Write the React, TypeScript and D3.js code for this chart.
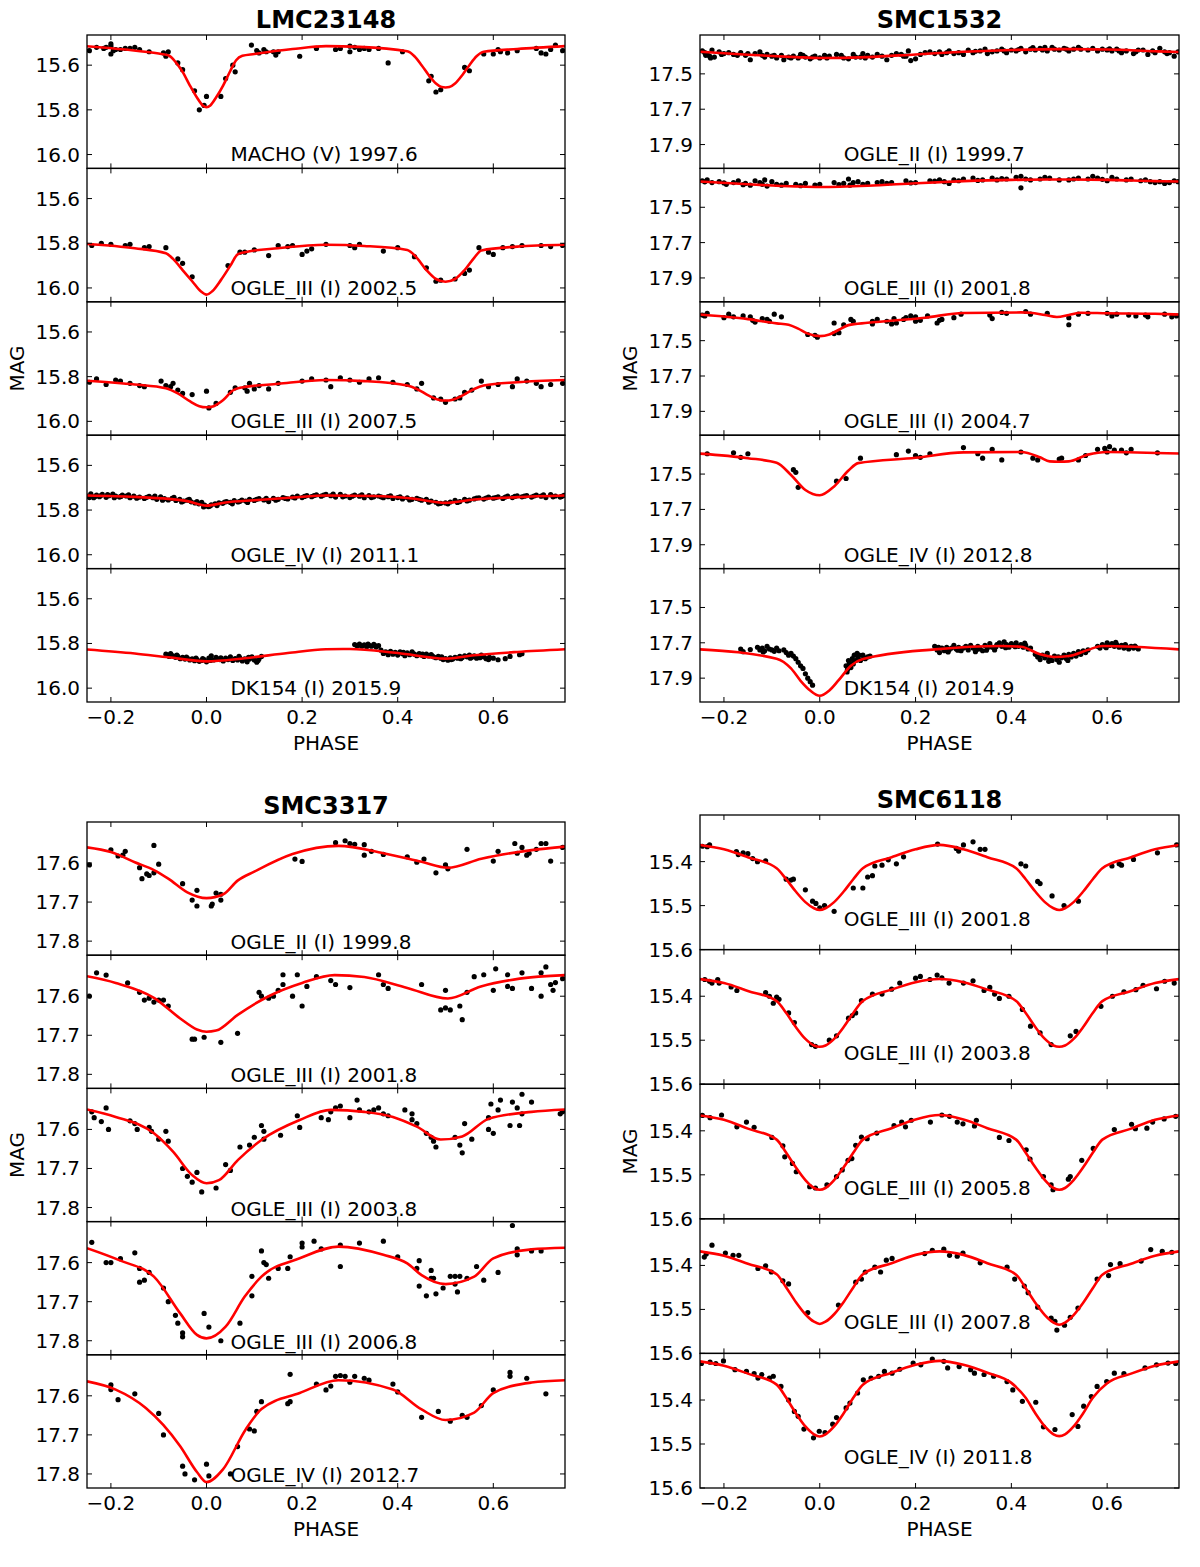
import * as d3 from 'd3'

type Pt = [number, number]

// ---- shared axis values ----
const PHASE_TICKS = [-0.2, 0, 0.2, 0.4, 0.6]
const LMC23148_TICKS = [15.6, 15.8, 16.0]
const SMC1532_TICKS = [17.5, 17.7, 17.9]
const SMC3317_TICKS = [17.6, 17.7, 17.8]
const SMC6118_TICKS = [15.4, 15.5, 15.6]

const LMC23148_LABELS = ['MACHO (V) 1997.6', 'OGLE_III (I) 2002.5', 'OGLE_III (I) 2007.5', 'OGLE_IV (I) 2011.1', 'DK154 (I) 2015.9']
const SMC1532_LABELS = ['OGLE_II (I) 1999.7', 'OGLE_III (I) 2001.8', 'OGLE_III (I) 2004.7', 'OGLE_IV (I) 2012.8', 'DK154 (I) 2014.9']
const SMC3317_LABELS = ['OGLE_II (I) 1999.8', 'OGLE_III (I) 2001.8', 'OGLE_III (I) 2003.8', 'OGLE_III (I) 2006.8', 'OGLE_IV (I) 2012.7']
const SMC6118_LABELS = ['OGLE_III (I) 2001.8', 'OGLE_III (I) 2003.8', 'OGLE_III (I) 2005.8', 'OGLE_III (I) 2007.8', 'OGLE_IV (I) 2011.8']

// ---- LMC23148 ----
const LMC_MACHO_CURVE: Pt[] = [[-0.25,15.515],[-0.17,15.53],[-0.1,15.548],[-0.08,15.556],[-0.065,15.585],[-0.05,15.63],[-0.035,15.69],[-0.02,15.745],[-0.008,15.78],[0,15.788],[0.008,15.78],[0.02,15.745],[0.035,15.69],[0.05,15.625],[0.062,15.578],[0.075,15.558],[0.1,15.55],[0.18,15.528],[0.25,15.515],[0.32,15.518],[0.42,15.538],[0.435,15.56],[0.45,15.6],[0.465,15.645],[0.48,15.682],[0.492,15.698],[0.5,15.7],[0.508,15.698],[0.52,15.682],[0.535,15.645],[0.55,15.6],[0.565,15.56],[0.58,15.54],[0.65,15.528],[0.75,15.515]]
const LMC_MACHO_POINTS: Pt[] = [[-0.245,15.535],[-0.23,15.52],[-0.21,15.52],[-0.2,15.515],[-0.2,15.505],[-0.2,15.55],[-0.19,15.53],[-0.18,15.53],[-0.17,15.525],[-0.16,15.525],[-0.15,15.52],[-0.12,15.54],[-0.09,15.545],[-0.085,15.56],[-0.08,15.54],[-0.06,15.59],[-0.05,15.62],[-0.025,15.715],[-0.015,15.8],[-0.005,15.78],[0.0,15.74],[0.03,15.74],[0.04,15.66],[0.055,15.6],[0.06,15.63],[0.094,15.51],[0.105,15.535],[0.12,15.53],[0.14,15.54],[0.145,15.555],[0.15,15.54],[0.195,15.56],[0.23,15.525],[0.27,15.53],[0.28,15.525],[0.3,15.515],[0.3,15.54],[0.32,15.53],[0.34,15.53],[0.36,15.525],[0.38,15.59],[0.41,15.54],[0.465,15.67],[0.47,15.65],[0.48,15.72],[0.49,15.71],[0.54,15.61],[0.55,15.625],[0.58,15.55],[0.6,15.55],[0.61,15.53],[0.63,15.545],[0.65,15.535],[0.69,15.525],[0.7,15.545],[0.71,15.55],[0.73,15.51],[0.745,15.535],[-0.215,15.525],[-0.195,15.535],[-0.14,15.53],[0.11,15.545],[0.125,15.54],[0.31,15.52],[0.33,15.525],[0.615,15.54],[0.72,15.53]]

const LMC_OGLE3A_CURVE: Pt[] = [[-0.25,15.803],[-0.15,15.822],[-0.085,15.845],[-0.07,15.87],[-0.05,15.92],[-0.03,15.97],[-0.012,16.015],[0,16.03],[0.012,16.015],[0.03,15.965],[0.05,15.9],[0.065,15.85],[0.08,15.84],[0.15,15.822],[0.25,15.807],[0.33,15.812],[0.42,15.83],[0.44,15.865],[0.46,15.92],[0.48,15.96],[0.5,15.972],[0.52,15.96],[0.54,15.92],[0.56,15.865],[0.575,15.832],[0.65,15.815],[0.75,15.807]]
const LMC_OGLE3A_POINTS: Pt[] = [[-0.24,15.81],[-0.22,15.8],[-0.2,15.805],[-0.17,15.81],[-0.16,15.805],[-0.13,15.82],[-0.12,15.815],[-0.085,15.82],[-0.06,15.87],[-0.05,15.89],[-0.03,15.95],[0.045,15.9],[0.07,15.84],[0.08,15.84],[0.1,15.83],[0.13,15.855],[0.15,15.81],[0.17,15.815],[0.18,15.81],[0.2,15.85],[0.21,15.835],[0.22,15.825],[0.25,15.805],[0.3,15.81],[0.31,15.82],[0.32,15.805],[0.37,15.835],[0.4,15.82],[0.435,15.86],[0.46,15.91],[0.48,15.97],[0.49,15.965],[0.52,15.96],[0.54,15.935],[0.55,15.92],[0.57,15.82],[0.59,15.84],[0.6,15.85],[0.62,15.82],[0.64,15.815],[0.66,15.81],[0.7,15.81],[0.72,15.815],[0.745,15.81]]

const LMC_OGLE3B_CURVE: Pt[] = [[-0.25,15.818],[-0.15,15.835],[-0.085,15.852],[-0.06,15.875],[-0.035,15.91],[-0.015,15.932],[0,15.937],[0.015,15.932],[0.035,15.905],[0.055,15.862],[0.07,15.85],[0.15,15.832],[0.25,15.815],[0.33,15.82],[0.42,15.84],[0.44,15.855],[0.465,15.885],[0.485,15.903],[0.5,15.907],[0.515,15.903],[0.535,15.885],[0.56,15.855],[0.58,15.84],[0.65,15.825],[0.75,15.815]]
const LMC_OGLE3B_POINTS: Pt[] = [[-0.245,15.825],[-0.23,15.81],[-0.21,15.835],[-0.19,15.815],[-0.18,15.82],[-0.16,15.83],[-0.14,15.84],[-0.13,15.845],[-0.095,15.82],[-0.085,15.84],[-0.075,15.845],[-0.07,15.83],[-0.06,15.86],[-0.05,15.875],[-0.03,15.88],[0.0,15.865],[0.005,15.94],[0.02,15.92],[0.05,15.87],[0.06,15.85],[0.08,15.85],[0.085,15.865],[0.09,15.83],[0.1,15.855],[0.11,15.84],[0.13,15.855],[0.15,15.83],[0.2,15.82],[0.22,15.81],[0.25,15.815],[0.26,15.845],[0.28,15.805],[0.3,15.815],[0.32,15.825],[0.34,15.81],[0.36,15.805],[0.39,15.825],[0.42,15.835],[0.44,15.855],[0.45,15.83],[0.475,15.895],[0.49,15.9],[0.5,15.915],[0.52,15.9],[0.53,15.895],[0.54,15.87],[0.555,15.86],[0.575,15.82],[0.59,15.845],[0.61,15.835],[0.64,15.845],[0.65,15.81],[0.67,15.82],[0.69,15.83],[0.7,15.845],[0.72,15.835],[0.745,15.83]]

const LMC_OGLE4_CURVE: Pt[] = [[-0.25,15.735],[-0.15,15.741],[-0.08,15.75],[-0.04,15.76],[0,15.78],[0.04,15.766],[0.1,15.756],[0.18,15.744],[0.25,15.735],[0.35,15.737],[0.43,15.748],[0.5,15.768],[0.56,15.753],[0.65,15.742],[0.75,15.735]]
const LMC_OGLE4_POINTS: Pt[] = [[-0.248,15.738],[-0.242,15.728],[-0.236,15.745],[-0.23,15.733],[-0.224,15.74],[-0.218,15.73],[-0.21,15.743],[-0.204,15.736],[-0.196,15.729],[-0.19,15.738],[-0.182,15.742],[-0.176,15.733],[-0.168,15.737],[-0.16,15.745],[-0.152,15.738],[-0.14,15.742],[-0.13,15.748],[-0.12,15.739],[-0.112,15.745],[-0.104,15.752],[-0.096,15.741],[-0.088,15.749],[-0.08,15.755],[-0.072,15.748],[-0.064,15.757],[-0.056,15.752],[-0.048,15.76],[-0.04,15.756],[-0.032,15.763],[-0.024,15.768],[-0.016,15.772],[-0.01,15.765],[-0.004,15.778],[0.004,15.785],[0.01,15.777],[0.018,15.772],[0.026,15.768],[0.034,15.77],[0.042,15.762],[0.05,15.766],[0.058,15.758],[0.066,15.764],[0.074,15.755],[0.082,15.76],[0.09,15.752],[0.1,15.757],[0.11,15.749],[0.12,15.755],[0.13,15.762],[0.14,15.748],[0.15,15.752],[0.16,15.744],[0.17,15.75],[0.18,15.742],[0.19,15.737],[0.2,15.744],[0.21,15.735],[0.22,15.74],[0.23,15.732],[0.24,15.738],[0.25,15.73],[0.26,15.736],[0.27,15.742],[0.28,15.73],[0.29,15.737],[0.3,15.744],[0.31,15.733],[0.32,15.738],[0.33,15.745],[0.34,15.735],[0.35,15.741],[0.36,15.737],[0.37,15.745],[0.38,15.74],[0.39,15.748],[0.4,15.744],[0.41,15.75],[0.42,15.745],[0.43,15.752],[0.44,15.748],[0.45,15.756],[0.46,15.752],[0.47,15.76],[0.48,15.765],[0.49,15.77],[0.5,15.768],[0.51,15.764],[0.52,15.757],[0.53,15.762],[0.54,15.752],[0.55,15.756],[0.56,15.75],[0.57,15.745],[0.58,15.751],[0.59,15.742],[0.6,15.747],[0.61,15.741],[0.62,15.748],[0.63,15.738],[0.64,15.744],[0.65,15.736],[0.66,15.741],[0.67,15.735],[0.68,15.742],[0.69,15.733],[0.7,15.738],[0.71,15.744],[0.72,15.731],[0.73,15.737],[0.74,15.742],[0.748,15.734],
  [-0.245,15.744],[-0.233,15.739],[-0.221,15.735],[-0.207,15.731],[-0.193,15.745],[-0.179,15.739],[-0.163,15.732],[-0.146,15.747],[-0.125,15.743],[-0.108,15.738],[-0.092,15.756],[-0.068,15.743],[-0.052,15.764],[-0.036,15.752],[-0.02,15.762],[-0.006,15.786],[0.007,15.782],[0.022,15.78],[0.038,15.764],[0.054,15.772],[0.07,15.761],[0.086,15.766],[0.105,15.752],[0.125,15.748],[0.145,15.756],[0.165,15.748],[0.185,15.746],[0.205,15.739],[0.225,15.735],[0.245,15.733],[0.265,15.729],[0.285,15.741],[0.305,15.738],[0.325,15.732],[0.345,15.744],[0.365,15.741],[0.385,15.736],[0.405,15.741],[0.425,15.755],[0.445,15.752],[0.465,15.765],[0.485,15.772],[0.505,15.772],[0.525,15.766],[0.545,15.759],[0.565,15.746],[0.585,15.746],[0.605,15.744],[0.625,15.742],[0.645,15.739],[0.665,15.738],[0.685,15.737],[0.705,15.732],[0.725,15.741],[0.743,15.739]]

const LMC_DK154_CURVE: Pt[] = [[-0.25,15.827],[-0.15,15.845],[-0.08,15.862],[0,15.88],[0.08,15.866],[0.17,15.843],[0.25,15.826],[0.3,15.825],[0.4,15.843],[0.5,15.868],[0.56,15.853],[0.65,15.838],[0.75,15.826]]
const LMC_DK154_POINTS: Pt[] = [[-0.085,15.848],[-0.08,15.852],[-0.075,15.845],[-0.07,15.855],[-0.065,15.862],[-0.06,15.858],[-0.055,15.868],[-0.05,15.862],[-0.045,15.87],[-0.04,15.866],[-0.035,15.874],[-0.03,15.869],[-0.025,15.877],[-0.02,15.872],[-0.015,15.88],[-0.01,15.876],[-0.005,15.872],[0.0,15.882],[0.005,15.866],[0.01,15.855],[0.015,15.874],[0.02,15.862],[0.025,15.87],[0.03,15.864],[0.035,15.878],[0.04,15.866],[0.045,15.872],[0.05,15.86],[0.055,15.876],[0.06,15.868],[0.065,15.874],[0.07,15.865],[0.075,15.878],[0.08,15.869],[0.085,15.882],[0.09,15.87],[0.095,15.86],[0.1,15.874],[0.105,15.884],[0.11,15.868],[0.115,15.858],[0.31,15.805],[0.315,15.81],[0.32,15.803],[0.325,15.812],[0.33,15.806],[0.335,15.815],[0.34,15.808],[0.345,15.812],[0.35,15.804],[0.355,15.816],[0.36,15.81],[0.365,15.83],[0.37,15.845],[0.375,15.838],[0.38,15.85],[0.385,15.835],[0.39,15.848],[0.395,15.84],[0.4,15.852],[0.405,15.838],[0.41,15.846],[0.415,15.855],[0.42,15.842],[0.425,15.85],[0.43,15.838],[0.435,15.848],[0.44,15.855],[0.445,15.845],[0.45,15.852],[0.455,15.858],[0.46,15.848],[0.465,15.856],[0.47,15.85],[0.475,15.86],[0.48,15.864],[0.485,15.858],[0.49,15.866],[0.495,15.872],[0.5,15.868],[0.505,15.875],[0.51,15.864],[0.515,15.87],[0.52,15.862],[0.525,15.866],[0.53,15.858],[0.535,15.863],[0.54,15.855],[0.545,15.86],[0.55,15.852],[0.555,15.862],[0.56,15.855],[0.565,15.866],[0.57,15.858],[0.575,15.852],[0.58,15.86],[0.585,15.868],[0.59,15.872],[0.6,15.866],[0.61,15.873],[0.625,15.868],[0.635,15.858],[0.655,15.85],[0.66,15.846],
  [-0.078,15.858],[-0.062,15.852],[-0.042,15.861],[-0.022,15.866],[-0.008,15.868],[0.008,15.876],[0.028,15.872],[0.048,15.868],[0.068,15.858],[0.088,15.862],[0.108,15.876],[0.318,15.808],[0.338,15.803],[0.352,15.809],[0.372,15.84],[0.392,15.843],[0.412,15.84],[0.432,15.845],[0.452,15.848],[0.472,15.855],[0.492,15.86],[0.512,15.872],[0.532,15.868],[0.552,15.866],[0.572,15.864],[0.592,15.862]]

// ---- SMC1532 ----
const S1532_OGLE2_CURVE: Pt[] = [[-0.25,17.375],[-0.15,17.392],[-0.05,17.405],[0,17.41],[0.1,17.405],[0.2,17.39],[0.3,17.375],[0.4,17.365],[0.5,17.36],[0.6,17.362],[0.7,17.372],[0.75,17.376]]
const S1532_OGLE2_POINTS: Pt[] = [[-0.245,17.37],[-0.24,17.38],[-0.235,17.39],[-0.23,17.4],[-0.225,17.365],[-0.22,17.405],[-0.21,17.375],[-0.2,17.385],[-0.19,17.38],[-0.18,17.39],[-0.165,17.38],[-0.155,17.395],[-0.145,17.42],[-0.135,17.385],[-0.125,17.375],[-0.12,17.395],[-0.11,17.39],[-0.1,17.4],[-0.09,17.41],[-0.08,17.395],[-0.075,17.42],[-0.065,17.405],[-0.055,17.4],[-0.045,17.41],[-0.04,17.39],[-0.03,17.405],[-0.02,17.415],[-0.01,17.4],[0.0,17.41],[0.01,17.395],[0.02,17.4],[0.035,17.39],[0.05,17.41],[0.06,17.415],[0.07,17.39],[0.085,17.405],[0.09,17.385],[0.1,17.395],[0.11,17.405],[0.13,17.4],[0.14,17.42],[0.16,17.385],[0.17,17.39],[0.18,17.4],[0.185,17.37],[0.19,17.425],[0.2,17.415],[0.22,17.38],[0.23,17.375],[0.24,17.385],[0.255,17.39],[0.265,17.38],[0.27,17.37],[0.29,17.38],[0.3,17.39],[0.31,17.365],[0.32,17.38],[0.335,17.37],[0.35,17.385],[0.36,17.375],[0.37,17.37],[0.38,17.36],[0.39,17.38],[0.4,17.365],[0.41,17.37],[0.42,17.355],[0.43,17.375],[0.44,17.36],[0.45,17.365],[0.46,17.355],[0.47,17.35],[0.475,17.37],[0.49,17.36],[0.5,17.365],[0.51,17.355],[0.52,17.37],[0.53,17.36],[0.54,17.35],[0.56,17.365],[0.58,17.37],[0.59,17.36],[0.6,17.365],[0.61,17.37],[0.62,17.36],[0.63,17.38],[0.64,17.37],[0.655,17.385],[0.66,17.375],[0.675,17.365],[0.685,17.39],[0.7,17.38],[0.71,17.355],[0.72,17.375],[0.73,17.38],[0.74,17.4],[0.748,17.375],
  [-0.238,17.395],[-0.228,17.41],[-0.205,17.39],[-0.172,17.395],[-0.15,17.385],[-0.115,17.405],[-0.095,17.395],[-0.06,17.41],[-0.035,17.395],[-0.015,17.405],[0.015,17.41],[0.045,17.395],[0.075,17.405],[0.095,17.41],[0.12,17.39],[0.15,17.395],[0.175,17.4],[0.21,17.39],[0.25,17.375],[0.28,17.385],[0.325,17.372],[0.345,17.36],[0.385,17.37],[0.415,17.362],[0.445,17.352],[0.465,17.365],[0.485,17.35],[0.515,17.36],[0.545,17.36],[0.57,17.355],[0.605,17.358],[0.625,17.37],[0.665,17.365],[0.695,17.37],[0.725,17.385]]

const S1532_OGLE3A_CURVE: Pt[] = [[-0.25,17.354],[-0.15,17.37],[-0.05,17.382],[0,17.385],[0.1,17.378],[0.2,17.364],[0.3,17.352],[0.4,17.345],[0.5,17.343],[0.6,17.345],[0.7,17.352],[0.75,17.354]]
const S1532_OGLE3A_POINTS: Pt[] = [[-0.245,17.35],[-0.235,17.345],[-0.225,17.36],[-0.21,17.355],[-0.195,17.37],[-0.18,17.36],[-0.17,17.35],[-0.155,17.365],[-0.145,17.375],[-0.135,17.35],[-0.125,17.36],[-0.115,17.345],[-0.11,17.38],[-0.1,17.355],[-0.09,17.37],[-0.07,17.365],[-0.05,17.37],[-0.03,17.365],[-0.01,17.375],[0.0,17.37],[0.03,17.36],[0.05,17.365],[0.06,17.34],[0.063,17.375],[0.07,17.36],[0.08,17.355],[0.1,17.365],[0.12,17.36],[0.13,17.355],[0.15,17.36],[0.18,17.35],[0.2,17.36],[0.23,17.35],[0.25,17.345],[0.26,17.355],[0.27,17.365],[0.29,17.35],[0.3,17.34],[0.32,17.335],[0.34,17.345],[0.36,17.335],[0.37,17.345],[0.39,17.34],[0.41,17.33],[0.42,17.325],[0.42,17.39],[0.43,17.34],[0.46,17.34],[0.48,17.335],[0.5,17.345],[0.52,17.345],[0.54,17.335],[0.56,17.34],[0.57,17.325],[0.58,17.335],[0.6,17.35],[0.61,17.33],[0.62,17.34],[0.64,17.345],[0.67,17.35],[0.69,17.355],[0.7,17.36],[0.71,17.355],[0.72,17.365],[0.73,17.36],[0.74,17.35],[0.748,17.355],
  [-0.24,17.356],[-0.2,17.362],[-0.16,17.372],[-0.12,17.37],[-0.08,17.375],[-0.04,17.378],[0.04,17.372],[0.09,17.37],[0.14,17.365],[0.19,17.362],[0.24,17.352],[0.28,17.345],[0.33,17.348],[0.38,17.338],[0.44,17.345],[0.47,17.33],[0.53,17.34],[0.59,17.342],[0.65,17.34],[0.68,17.345]]

const S1532_OGLE3B_CURVE: Pt[] = [[-0.25,17.352],[-0.15,17.378],[-0.09,17.402],[-0.065,17.41],[-0.045,17.432],[-0.025,17.46],[0,17.474],[0.02,17.465],[0.04,17.438],[0.06,17.412],[0.1,17.399],[0.22,17.37],[0.3,17.343],[0.42,17.34],[0.44,17.342],[0.47,17.355],[0.495,17.366],[0.52,17.355],[0.545,17.342],[0.6,17.345],[0.7,17.348],[0.75,17.352]]
const S1532_OGLE3B_POINTS: Pt[] = [[-0.245,17.355],[-0.24,17.36],[-0.235,17.345],[-0.2,17.37],[-0.19,17.35],[-0.18,17.365],[-0.16,17.36],[-0.145,17.365],[-0.14,17.385],[-0.135,17.395],[-0.12,17.375],[-0.11,17.38],[-0.105,17.39],[-0.095,17.35],[-0.08,17.365],[-0.025,17.465],[-0.01,17.47],[-0.005,17.48],[0.03,17.4],[0.03,17.46],[0.04,17.455],[0.05,17.41],[0.065,17.38],[0.07,17.39],[0.11,17.39],[0.11,17.405],[0.12,17.38],[0.14,17.39],[0.15,17.405],[0.155,17.375],[0.16,17.4],[0.175,17.38],[0.18,17.37],[0.19,17.36],[0.2,17.365],[0.2,17.39],[0.21,17.385],[0.225,17.36],[0.245,17.4],[0.25,17.385],[0.255,17.38],[0.28,17.37],[0.295,17.35],[0.355,17.355],[0.36,17.375],[0.38,17.34],[0.39,17.345],[0.43,17.335],[0.44,17.35],[0.475,17.345],[0.52,17.37],[0.52,17.41],[0.54,17.35],[0.56,17.345],[0.6,17.345],[0.61,17.36],[0.62,17.35],[0.645,17.355],[0.66,17.36],[0.68,17.355],[0.685,17.365],[0.72,17.35],[0.735,17.365],[0.745,17.36]]

const S1532_OGLE4_CURVE: Pt[] = [[-0.25,17.384],[-0.15,17.41],[-0.09,17.436],[-0.06,17.505],[-0.03,17.59],[0,17.62],[0.03,17.57],[0.06,17.48],[0.08,17.438],[0.2,17.408],[0.3,17.377],[0.42,17.375],[0.46,17.405],[0.48,17.428],[0.5,17.43],[0.52,17.428],[0.56,17.39],[0.6,17.375],[0.75,17.384]]
const S1532_OGLE4_POINTS: Pt[] = [[-0.235,17.385],[-0.18,17.38],[-0.165,17.405],[-0.15,17.385],[-0.055,17.475],[-0.05,17.49],[-0.045,17.575],[0.035,17.54],[0.055,17.525],[0.085,17.41],[0.16,17.39],[0.185,17.37],[0.2,17.395],[0.21,17.405],[0.23,17.385],[0.3,17.35],[0.33,17.385],[0.34,17.41],[0.36,17.36],[0.38,17.42],[0.42,17.375],[0.445,17.41],[0.455,17.42],[0.5,17.415],[0.505,17.41],[0.54,17.42],[0.555,17.395],[0.58,17.36],[0.595,17.355],[0.6,17.375],[0.605,17.345],[0.615,17.365],[0.63,17.365],[0.64,17.38],[0.65,17.36],[0.705,17.38]]

const S1532_DK154_CURVE: Pt[] = [[-0.25,17.737],[-0.09,17.79],[-0.06,17.845],[-0.04,17.915],[-0.02,17.97],[0,18.0],[0.02,17.97],[0.04,17.91],[0.065,17.83],[0.09,17.792],[0.24,17.737],[0.38,17.718],[0.42,17.722],[0.46,17.765],[0.49,17.78],[0.52,17.775],[0.56,17.74],[0.59,17.718],[0.75,17.737]]
const S1532_DK154_POINTS: Pt[] = [[-0.165,17.735],[-0.16,17.75],[-0.13,17.725],[-0.125,17.74],[-0.12,17.73],[-0.115,17.745],[-0.11,17.72],[-0.105,17.735],[-0.1,17.74],[-0.09,17.73],[-0.085,17.745],[-0.075,17.74],[-0.07,17.755],[-0.06,17.76],[-0.055,17.775],[-0.05,17.79],[-0.04,17.83],[-0.035,17.845],[-0.03,17.875],[-0.025,17.9],[-0.02,17.92],[-0.015,17.94],[0.055,17.83],[0.058,17.85],[0.06,17.8],[0.062,17.815],[0.065,17.84],[0.068,17.79],[0.07,17.82],[0.072,17.77],[0.075,17.8],[0.078,17.76],[0.08,17.785],[0.085,17.8],[0.09,17.77],[0.095,17.79],[0.1,17.78],[0.105,17.775],[0.24,17.72],[0.245,17.74],[0.25,17.755],[0.255,17.73],[0.26,17.745],[0.265,17.725],[0.27,17.74],[0.275,17.73],[0.28,17.715],[0.285,17.735],[0.29,17.725],[0.295,17.745],[0.3,17.73],[0.305,17.72],[0.31,17.74],[0.315,17.715],[0.32,17.73],[0.325,17.75],[0.33,17.72],[0.335,17.735],[0.34,17.745],[0.345,17.715],[0.35,17.73],[0.355,17.705],[0.36,17.725],[0.365,17.74],[0.37,17.71],[0.375,17.7],[0.38,17.72],[0.385,17.695],[0.39,17.71],[0.395,17.725],[0.4,17.705],[0.405,17.715],[0.41,17.7],[0.415,17.72],[0.42,17.71],[0.425,17.725],[0.43,17.715],[0.435,17.735],[0.44,17.73],[0.45,17.765],[0.455,17.78],[0.46,17.795],[0.465,17.77],[0.47,17.785],[0.475,17.76],[0.48,17.79],[0.485,17.8],[0.49,17.775],[0.495,17.795],[0.5,17.81],[0.505,17.785],[0.51,17.77],[0.515,17.79],[0.52,17.765],[0.525,17.78],[0.53,17.76],[0.535,17.775],[0.54,17.75],[0.545,17.765],[0.55,17.745],[0.555,17.755],[0.56,17.74],[0.58,17.72],[0.585,17.73],[0.59,17.71],[0.595,17.72],[0.6,17.7],[0.605,17.715],[0.61,17.705],[0.615,17.72],[0.62,17.71],[0.625,17.725],[0.63,17.715],[0.635,17.73],[0.64,17.72],[0.645,17.735],[0.65,17.72],[0.655,17.73],[0.66,17.725],[0.665,17.735],
  [-0.145,17.738],[-0.118,17.752],[-0.095,17.748],[-0.065,17.77],[-0.045,17.81],[0.057,17.865],[0.064,17.825],[0.071,17.805],[0.082,17.77],[0.092,17.785],[0.248,17.725],[0.268,17.752],[0.288,17.742],[0.308,17.728],[0.328,17.738],[0.348,17.742],[0.368,17.722],[0.388,17.728],[0.408,17.722],[0.428,17.702],[0.458,17.772],[0.478,17.805],[0.498,17.78],[0.518,17.8],[0.538,17.762],[0.598,17.728],[0.618,17.698],[0.638,17.71],[0.658,17.718]]

// ---- SMC3317 ----
const S3317_OGLE2_CURVE: Pt[] = [[-0.25,17.56],[-0.2,17.572],[-0.15,17.598],[-0.11,17.618],[-0.08,17.64],[-0.04,17.675],[0,17.69],[0.035,17.68],[0.065,17.645],[0.1,17.622],[0.18,17.577],[0.276,17.556],[0.37,17.575],[0.45,17.597],[0.505,17.612],[0.575,17.589],[0.68,17.567],[0.75,17.558]]
const S3317_OGLE2_POINTS: Pt[] = [[-0.245,17.605],[-0.2,17.566],[-0.185,17.582],[-0.175,17.58],[-0.17,17.57],[-0.14,17.612],[-0.135,17.64],[-0.125,17.628],[-0.12,17.632],[-0.11,17.625],[-0.11,17.555],[-0.1,17.603],[-0.05,17.653],[-0.03,17.695],[-0.02,17.71],[-0.02,17.67],[0.01,17.71],[0.012,17.705],[0.02,17.677],[0.03,17.695],[0.03,17.68],[0.185,17.59],[0.2,17.596],[0.27,17.548],[0.29,17.543],[0.3,17.55],[0.31,17.552],[0.33,17.553],[0.33,17.58],[0.345,17.57],[0.37,17.578],[0.42,17.584],[0.44,17.598],[0.455,17.59],[0.48,17.625],[0.5,17.605],[0.505,17.615],[0.545,17.565],[0.6,17.595],[0.61,17.57],[0.645,17.55],[0.65,17.575],[0.66,17.56],[0.67,17.58],[0.675,17.575],[0.69,17.565],[0.7,17.55],[0.71,17.55],[0.72,17.595],[0.745,17.56]]

const S3317_OGLE3A_CURVE: Pt[] = [[-0.25,17.549],[-0.19,17.566],[-0.11,17.604],[-0.055,17.657],[-0.02,17.685],[0,17.691],[0.02,17.688],[0.066,17.647],[0.13,17.6],[0.2,17.566],[0.268,17.546],[0.33,17.551],[0.42,17.579],[0.505,17.606],[0.574,17.575],[0.655,17.555],[0.75,17.546]]
const S3317_OGLE3A_POINTS: Pt[] = [[-0.245,17.6],[-0.23,17.54],[-0.21,17.546],[-0.165,17.566],[-0.14,17.59],[-0.13,17.61],[-0.12,17.605],[-0.11,17.615],[-0.1,17.61],[-0.09,17.61],[-0.08,17.625],[-0.03,17.71],[-0.025,17.71],[-0.005,17.705],[0.03,17.718],[0.065,17.695],[0.11,17.59],[0.115,17.6],[0.13,17.605],[0.14,17.6],[0.15,17.585],[0.16,17.57],[0.16,17.545],[0.18,17.6],[0.19,17.545],[0.2,17.625],[0.21,17.575],[0.23,17.55],[0.26,17.56],[0.27,17.57],[0.3,17.578],[0.36,17.545],[0.37,17.57],[0.38,17.58],[0.45,17.57],[0.5,17.585],[0.49,17.635],[0.5,17.63],[0.51,17.635],[0.53,17.625],[0.535,17.66],[0.545,17.59],[0.56,17.55],[0.58,17.545],[0.6,17.585],[0.605,17.53],[0.63,17.545],[0.63,17.575],[0.64,17.58],[0.66,17.54],[0.68,17.58],[0.7,17.6],[0.7,17.54],[0.71,17.525],[0.72,17.57],[0.725,17.585],[0.73,17.565],[0.745,17.555]]

const S3317_OGLE3B_CURVE: Pt[] = [[-0.25,17.549],[-0.19,17.568],[-0.11,17.61],[-0.07,17.657],[-0.03,17.717],[0,17.738],[0.026,17.73],[0.066,17.678],[0.115,17.627],[0.195,17.576],[0.26,17.55],[0.33,17.555],[0.39,17.568],[0.44,17.593],[0.49,17.626],[0.535,17.618],[0.59,17.573],[0.68,17.555],[0.75,17.549]]
const S3317_OGLE3B_POINTS: Pt[] = [[-0.24,17.555],[-0.235,17.57],[-0.22,17.58],[-0.21,17.545],[-0.205,17.6],[-0.16,17.578],[-0.15,17.585],[-0.145,17.6],[-0.12,17.595],[-0.115,17.605],[-0.1,17.625],[-0.085,17.605],[-0.08,17.63],[-0.05,17.7],[-0.04,17.72],[-0.03,17.735],[-0.02,17.71],[-0.01,17.76],[0.02,17.75],[0.04,17.69],[0.05,17.705],[0.07,17.645],[0.09,17.64],[0.1,17.62],[0.115,17.59],[0.12,17.605],[0.12,17.625],[0.155,17.615],[0.19,17.565],[0.195,17.595],[0.24,17.57],[0.255,17.575],[0.26,17.555],[0.27,17.545],[0.28,17.54],[0.3,17.57],[0.315,17.525],[0.32,17.55],[0.34,17.555],[0.35,17.55],[0.36,17.545],[0.37,17.56],[0.38,17.565],[0.415,17.55],[0.43,17.56],[0.43,17.575],[0.44,17.585],[0.46,17.61],[0.47,17.62],[0.475,17.63],[0.48,17.645],[0.52,17.62],[0.53,17.64],[0.535,17.66],[0.54,17.585],[0.555,17.625],[0.59,17.6],[0.6,17.61],[0.59,17.57],[0.595,17.535],[0.61,17.55],[0.615,17.525],[0.635,17.59],[0.64,17.53],[0.65,17.545],[0.655,17.59],[0.66,17.56],[0.66,17.51],[0.68,17.53],[0.74,17.56],[0.745,17.555]]

const S3317_OGLE3C_CURVE: Pt[] = [[-0.25,17.563],[-0.18,17.595],[-0.11,17.636],[-0.055,17.73],[-0.02,17.785],[0,17.794],[0.04,17.764],[0.08,17.687],[0.115,17.636],[0.195,17.589],[0.276,17.559],[0.37,17.58],[0.42,17.602],[0.45,17.632],[0.5,17.655],[0.56,17.636],[0.6,17.589],[0.68,17.566],[0.75,17.562]]
const S3317_OGLE3C_POINTS: Pt[] = [[-0.24,17.548],[-0.21,17.6],[-0.2,17.6],[-0.18,17.59],[-0.15,17.575],[-0.14,17.615],[-0.14,17.65],[-0.13,17.645],[-0.12,17.625],[-0.09,17.665],[-0.08,17.7],[-0.065,17.735],[-0.06,17.755],[-0.05,17.78],[-0.05,17.79],[-0.005,17.73],[0.005,17.765],[0.03,17.8],[0.07,17.755],[0.095,17.635],[0.095,17.685],[0.115,17.57],[0.12,17.6],[0.125,17.605],[0.13,17.64],[0.15,17.615],[0.17,17.615],[0.175,17.585],[0.2,17.56],[0.2,17.55],[0.225,17.545],[0.24,17.565],[0.28,17.555],[0.28,17.61],[0.32,17.55],[0.37,17.545],[0.4,17.585],[0.44,17.615],[0.445,17.595],[0.445,17.66],[0.46,17.685],[0.47,17.64],[0.47,17.62],[0.475,17.64],[0.48,17.68],[0.495,17.665],[0.51,17.635],[0.52,17.635],[0.52,17.655],[0.525,17.675],[0.53,17.635],[0.545,17.64],[0.565,17.61],[0.58,17.645],[0.61,17.625],[0.64,17.505],[0.65,17.565],[0.65,17.58],[0.68,17.57],[0.7,17.57]]

const S3317_OGLE4_CURVE: Pt[] = [[-0.25,17.563],[-0.19,17.584],[-0.127,17.631],[-0.09,17.675],[-0.055,17.729],[-0.02,17.795],[0,17.821],[0.034,17.789],[0.082,17.686],[0.115,17.634],[0.195,17.593],[0.276,17.56],[0.39,17.584],[0.45,17.635],[0.5,17.662],[0.56,17.643],[0.6,17.593],[0.68,17.566],[0.75,17.56]]
const S3317_OGLE4_POINTS: Pt[] = [[-0.2,17.572],[-0.2,17.584],[-0.185,17.61],[-0.15,17.595],[-0.1,17.645],[-0.09,17.7],[-0.05,17.78],[-0.045,17.8],[-0.025,17.815],[0.0,17.775],[0.005,17.805],[0.05,17.8],[0.065,17.73],[0.09,17.685],[0.1,17.69],[0.105,17.64],[0.115,17.615],[0.17,17.62],[0.175,17.615],[0.175,17.545],[0.23,17.57],[0.25,17.585],[0.26,17.575],[0.27,17.55],[0.28,17.548],[0.29,17.55],[0.3,17.565],[0.31,17.55],[0.33,17.555],[0.34,17.56],[0.39,17.57],[0.4,17.59],[0.45,17.655],[0.485,17.64],[0.51,17.665],[0.535,17.65],[0.545,17.655],[0.575,17.625],[0.6,17.585],[0.635,17.55],[0.635,17.54],[0.67,17.555],[0.71,17.595]]

// ---- SMC6118 ----
const S6118_A_CURVE: Pt[] = [[-0.25,15.362],[-0.2,15.372],[-0.15,15.39],[-0.09,15.415],[-0.07,15.44],[-0.05,15.468],[-0.03,15.492],[-0.012,15.506],[0,15.51],[0.012,15.506],[0.03,15.492],[0.05,15.468],[0.07,15.44],[0.09,15.415],[0.15,15.39],[0.2,15.372],[0.25,15.362],[0.3,15.372],[0.35,15.39],[0.41,15.415],[0.43,15.44],[0.45,15.468],[0.47,15.492],[0.488,15.506],[0.5,15.51],[0.512,15.506],[0.53,15.492],[0.55,15.468],[0.57,15.44],[0.59,15.415],[0.65,15.39],[0.7,15.372],[0.75,15.362]]
const S6118_A_POINTS: Pt[] = [[-0.245,15.365],[-0.235,15.366],[-0.23,15.362],[-0.174,15.377],[-0.17,15.384],[-0.16,15.38],[-0.15,15.382],[-0.14,15.393],[-0.13,15.4],[-0.113,15.398],[-0.07,15.44],[-0.06,15.442],[-0.055,15.44],[-0.03,15.464],[-0.015,15.49],[-0.008,15.495],[0.0,15.505],[0.01,15.5],[0.03,15.513],[0.07,15.46],[0.09,15.46],[0.1,15.435],[0.11,15.432],[0.115,15.41],[0.13,15.408],[0.143,15.396],[0.16,15.405],[0.175,15.389],[0.246,15.36],[0.285,15.37],[0.29,15.376],[0.3,15.362],[0.32,15.355],[0.335,15.372],[0.345,15.372],[0.42,15.405],[0.43,15.41],[0.455,15.445],[0.46,15.45],[0.485,15.478],[0.51,15.5],[0.54,15.49],[0.61,15.41],[0.625,15.405],[0.63,15.408],[0.655,15.395],[0.705,15.38],[0.745,15.362]]

const S6118_B_CURVE: Pt[] = [[-0.25,15.361],[-0.2,15.37],[-0.15,15.388],[-0.09,15.411],[-0.07,15.438],[-0.05,15.47],[-0.03,15.497],[-0.012,15.512],[0,15.515],[0.012,15.512],[0.03,15.497],[0.05,15.47],[0.07,15.438],[0.09,15.411],[0.15,15.385],[0.2,15.368],[0.25,15.361],[0.3,15.368],[0.35,15.385],[0.41,15.411],[0.43,15.438],[0.45,15.47],[0.47,15.497],[0.488,15.512],[0.5,15.515],[0.512,15.512],[0.53,15.497],[0.55,15.47],[0.57,15.438],[0.59,15.411],[0.65,15.388],[0.7,15.37],[0.75,15.361]]
const S6118_B_POINTS: Pt[] = [[-0.24,15.362],[-0.23,15.366],[-0.225,15.37],[-0.213,15.362],[-0.21,15.37],[-0.185,15.379],[-0.173,15.387],[-0.113,15.392],[-0.105,15.4],[-0.097,15.416],[-0.09,15.402],[-0.085,15.407],[-0.065,15.438],[-0.053,15.46],[-0.017,15.51],[-0.009,15.514],[0.02,15.5],[0.035,15.49],[0.06,15.45],[0.068,15.444],[0.075,15.438],[0.087,15.41],[0.11,15.395],[0.13,15.395],[0.15,15.384],[0.167,15.37],[0.2,15.359],[0.21,15.355],[0.23,15.362],[0.245,15.352],[0.255,15.358],[0.27,15.37],[0.3,15.37],[0.32,15.365],[0.343,15.387],[0.355,15.38],[0.365,15.395],[0.375,15.405],[0.395,15.4],[0.423,15.43],[0.44,15.468],[0.46,15.483],[0.483,15.51],[0.523,15.49],[0.535,15.48],[0.587,15.423],[0.611,15.4],[0.635,15.39],[0.66,15.385],[0.675,15.375],[0.703,15.383],[0.72,15.366],[0.74,15.37]]

const S6118_C_CURVE: Pt[] = [[-0.25,15.365],[-0.2,15.375],[-0.15,15.395],[-0.09,15.42],[-0.07,15.45],[-0.05,15.483],[-0.03,15.512],[-0.012,15.53],[0,15.534],[0.012,15.53],[0.03,15.512],[0.05,15.483],[0.07,15.45],[0.09,15.42],[0.15,15.394],[0.2,15.374],[0.25,15.364],[0.3,15.374],[0.35,15.394],[0.41,15.42],[0.43,15.45],[0.45,15.483],[0.47,15.512],[0.488,15.53],[0.5,15.534],[0.512,15.53],[0.53,15.512],[0.55,15.483],[0.57,15.45],[0.59,15.42],[0.65,15.395],[0.7,15.375],[0.75,15.365]]
const S6118_C_POINTS: Pt[] = [[-0.245,15.365],[-0.229,15.37],[-0.205,15.364],[-0.173,15.391],[-0.153,15.38],[-0.137,15.392],[-0.1,15.415],[-0.077,15.434],[-0.073,15.459],[-0.057,15.474],[-0.049,15.493],[-0.021,15.527],[-0.009,15.53],[0.015,15.523],[0.035,15.504],[0.047,15.489],[0.059,15.467],[0.067,15.463],[0.075,15.433],[0.087,15.414],[0.099,15.418],[0.119,15.405],[0.155,15.388],[0.171,15.38],[0.179,15.391],[0.191,15.376],[0.231,15.38],[0.255,15.364],[0.271,15.367],[0.287,15.38],[0.299,15.384],[0.323,15.389],[0.327,15.376],[0.375,15.415],[0.395,15.422],[0.431,15.443],[0.439,15.464],[0.467,15.504],[0.483,15.523],[0.487,15.534],[0.519,15.51],[0.523,15.504],[0.547,15.467],[0.571,15.44],[0.615,15.397],[0.651,15.385],[0.659,15.395],[0.683,15.394],[0.695,15.38],[0.719,15.373],[0.743,15.367]]

const S6118_D_CURVE: Pt[] = [[-0.25,15.368],[-0.2,15.378],[-0.15,15.396],[-0.09,15.42],[-0.07,15.45],[-0.05,15.483],[-0.03,15.511],[-0.012,15.528],[0,15.533],[0.012,15.528],[0.03,15.511],[0.05,15.483],[0.07,15.45],[0.09,15.42],[0.15,15.395],[0.2,15.376],[0.25,15.368],[0.3,15.376],[0.35,15.395],[0.41,15.421],[0.43,15.452],[0.45,15.485],[0.47,15.513],[0.488,15.53],[0.5,15.535],[0.512,15.53],[0.53,15.513],[0.55,15.485],[0.57,15.452],[0.59,15.421],[0.65,15.396],[0.7,15.378],[0.75,15.368]]
const S6118_D_POINTS: Pt[] = [[-0.241,15.381],[-0.237,15.374],[-0.225,15.354],[-0.197,15.372],[-0.181,15.377],[-0.169,15.377],[-0.129,15.407],[-0.113,15.401],[-0.101,15.415],[-0.077,15.435],[-0.065,15.442],[-0.025,15.507],[0.039,15.49],[0.075,15.438],[0.087,15.431],[0.095,15.415],[0.115,15.404],[0.127,15.415],[0.139,15.388],[0.151,15.384],[0.219,15.373],[0.235,15.366],[0.259,15.363],[0.271,15.377],[0.287,15.379],[0.299,15.372],[0.335,15.394],[0.391,15.404],[0.407,15.431],[0.427,15.447],[0.435,15.462],[0.455,15.495],[0.483,15.52],[0.491,15.527],[0.495,15.547],[0.511,15.536],[0.523,15.518],[0.539,15.497],[0.579,15.431],[0.603,15.423],[0.607,15.398],[0.627,15.396],[0.671,15.39],[0.691,15.364],[0.715,15.368],[0.735,15.37]]

const S6118_E_CURVE: Pt[] = [[-0.25,15.312],[-0.2,15.322],[-0.15,15.34],[-0.09,15.365],[-0.07,15.395],[-0.05,15.43],[-0.03,15.46],[-0.012,15.478],[0,15.483],[0.012,15.478],[0.03,15.46],[0.05,15.43],[0.07,15.395],[0.09,15.365],[0.15,15.338],[0.2,15.32],[0.25,15.311],[0.3,15.32],[0.35,15.338],[0.4,15.361],[0.43,15.395],[0.45,15.43],[0.47,15.46],[0.488,15.478],[0.5,15.482],[0.512,15.478],[0.53,15.46],[0.55,15.43],[0.57,15.395],[0.6,15.362],[0.65,15.34],[0.7,15.322],[0.75,15.312]]
const S6118_E_POINTS: Pt[] = [[-0.247,15.317],[-0.229,15.314],[-0.217,15.317],[-0.201,15.311],[-0.177,15.331],[-0.153,15.335],[-0.137,15.34],[-0.129,15.35],[-0.121,15.342],[-0.105,15.35],[-0.097,15.346],[-0.081,15.369],[-0.065,15.4],[-0.053,15.426],[-0.045,15.437],[-0.033,15.466],[-0.013,15.486],[-0.001,15.471],[0.011,15.474],[0.027,15.455],[0.035,15.44],[0.055,15.418],[0.063,15.407],[0.079,15.384],[0.091,15.354],[0.107,15.35],[0.123,15.346],[0.135,15.335],[0.151,15.339],[0.167,15.33],[0.195,15.316],[0.211,15.32],[0.235,15.307],[0.259,15.312],[0.267,15.327],[0.291,15.324],[0.315,15.331],[0.323,15.339],[0.343,15.342],[0.363,15.346],[0.391,15.358],[0.403,15.377],[0.423,15.403],[0.451,15.405],[0.467,15.461],[0.491,15.467],[0.527,15.433],[0.539,15.46],[0.551,15.414],[0.567,15.392],[0.579,15.369],[0.599,15.358],[0.615,15.339],[0.635,15.34],[0.679,15.327],[0.703,15.32],[0.727,15.316],[0.743,15.317]]

// ---- layout ----
interface Panel { label: string; curve: Pt[]; points: Pt[] }
interface Group {
  id: string
  title: string
  left: number
  right: number
  top: number
  bottom: number
  titleY: number
  yDomain: [number, number]
  yTicks: number[]
  textOffset: number
  panels: Panel[]
}

const zip = (labels: string[], curves: Pt[][], points: Pt[][]): Panel[] =>
  labels.map((label, i) => ({ label, curve: curves[i], points: points[i] }))

const GROUPS: Group[] = [
  {
    id: 'lmc23148', title: 'LMC23148', left: 87, right: 565, top: 35, bottom: 702, titleY: 20,
    yDomain: [15.465, 16.062], yTicks: LMC23148_TICKS, textOffset: 7,
    panels: zip(LMC23148_LABELS,
      [LMC_MACHO_CURVE, LMC_OGLE3A_CURVE, LMC_OGLE3B_CURVE, LMC_OGLE4_CURVE, LMC_DK154_CURVE],
      [LMC_MACHO_POINTS, LMC_OGLE3A_POINTS, LMC_OGLE3B_POINTS, LMC_OGLE4_POINTS, LMC_DK154_POINTS]),
  },
  {
    id: 'smc1532', title: 'SMC1532', left: 700, right: 1179, top: 35, bottom: 702, titleY: 20,
    yDomain: [17.28, 18.035], yTicks: SMC1532_TICKS, textOffset: 7,
    panels: zip(SMC1532_LABELS,
      [S1532_OGLE2_CURVE, S1532_OGLE3A_CURVE, S1532_OGLE3B_CURVE, S1532_OGLE4_CURVE, S1532_DK154_CURVE],
      [S1532_OGLE2_POINTS, S1532_OGLE3A_POINTS, S1532_OGLE3B_POINTS, S1532_OGLE4_POINTS, S1532_DK154_POINTS]),
  },
  {
    id: 'smc3317', title: 'SMC3317', left: 87, right: 565, top: 822, bottom: 1488, titleY: 806,
    yDomain: [17.495, 17.836], yTicks: SMC3317_TICKS, textOffset: 6,
    panels: zip(SMC3317_LABELS,
      [S3317_OGLE2_CURVE, S3317_OGLE3A_CURVE, S3317_OGLE3B_CURVE, S3317_OGLE3C_CURVE, S3317_OGLE4_CURVE],
      [S3317_OGLE2_POINTS, S3317_OGLE3A_POINTS, S3317_OGLE3B_POINTS, S3317_OGLE3C_POINTS, S3317_OGLE4_POINTS]),
  },
  {
    id: 'smc6118', title: 'SMC6118', left: 700, right: 1179, top: 815, bottom: 1488, titleY: 800,
    yDomain: [15.294, 15.6], yTicks: SMC6118_TICKS, textOffset: 24,
    panels: zip(SMC6118_LABELS,
      [S6118_A_CURVE, S6118_B_CURVE, S6118_C_CURVE, S6118_D_CURVE, S6118_E_CURVE],
      [S6118_A_POINTS, S6118_B_POINTS, S6118_C_POINTS, S6118_D_POINTS, S6118_E_POINTS]),
  },
]

const FONT = '"DejaVu Sans", "Liberation Sans", sans-serif'
const TICK = 5
const fmt = d3.format('.1f')

function LightCurveGroup({ g }: { g: Group }) {
  const x = d3.scaleLinear().domain([-0.25, 0.75]).range([g.left, g.right])
  const h = (g.bottom - g.top) / g.panels.length
  const midX = (g.left + g.right) / 2

  return (
    <g>
      <text x={midX} y={g.titleY} textAnchor="middle" dominantBaseline="central"
        fontFamily={FONT} fontWeight="bold" fontSize={24}>{g.title}</text>

      {g.panels.map((p, i) => {
        const top = g.top + i * h
        const bot = top + h
        const y = d3.scaleLinear().domain(g.yDomain).range([top, bot])
        const line = d3.line<Pt>().x(d => x(d[0])).y(d => y(d[1])).curve(d3.curveMonotoneX)
        const clipId = `clip-${g.id}-${i}`
        return (
          <g key={i}>
            <clipPath id={clipId}>
              <rect x={g.left} y={top} width={g.right - g.left} height={h} />
            </clipPath>
            <g clipPath={`url(#${clipId})`}>
              {p.points.map((d, j) => (
                <circle key={j} cx={x(d[0])} cy={y(d[1])} r={2.6} fill="#000" />
              ))}
              <path d={line(p.curve) ?? ''} fill="none" stroke="#ff0000" strokeWidth={2.6}
                strokeLinejoin="round" />
            </g>
            <text x={x(0.05)} y={bot - g.textOffset} fontFamily={FONT} fontSize={20} fill="#000">
              {p.label}
            </text>
            {/* ticks on all four sides, pointing inward */}
            {PHASE_TICKS.map(t => (
              <g key={`x${t}`} stroke="#000" strokeWidth={1}>
                <line x1={x(t)} x2={x(t)} y1={bot} y2={bot - TICK} />
                <line x1={x(t)} x2={x(t)} y1={top} y2={top + TICK} />
              </g>
            ))}
            {g.yTicks.map(t => (
              <g key={`y${t}`}>
                <line x1={g.left} x2={g.left + TICK} y1={y(t)} y2={y(t)} stroke="#000" />
                <line x1={g.right} x2={g.right - TICK} y1={y(t)} y2={y(t)} stroke="#000" />
                <text x={g.left - 7} y={y(t)} textAnchor="end" dominantBaseline="central"
                  fontFamily={FONT} fontSize={20}>{fmt(t)}</text>
              </g>
            ))}
            <rect x={g.left} y={top} width={g.right - g.left} height={h}
              fill="none" stroke="#000" strokeWidth={1.3} />
          </g>
        )
      })}

      {PHASE_TICKS.map(t => (
        <text key={t} x={x(t)} y={g.bottom + 15} textAnchor="middle" dominantBaseline="central"
          fontFamily={FONT} fontSize={20}>{fmt(t)}</text>
      ))}
      <text x={midX} y={g.bottom + 41} textAnchor="middle" dominantBaseline="central"
        fontFamily={FONT} fontSize={20}>PHASE</text>
      <text transform={`translate(${g.left - 70},${(g.top + g.bottom) / 2}) rotate(-90)`}
        textAnchor="middle" dominantBaseline="central" fontFamily={FONT} fontSize={20}>MAG</text>
    </g>
  )
}

export default function App() {
  return (
    <svg width={1200} height={1567} viewBox="0 0 1200 1567"
      style={{ position: 'absolute', left: 0, top: 0, background: '#fff' }}>
      <rect width={1200} height={1567} fill="#fff" />
      {GROUPS.map(g => <LightCurveGroup key={g.id} g={g} />)}
    </svg>
  )
}
